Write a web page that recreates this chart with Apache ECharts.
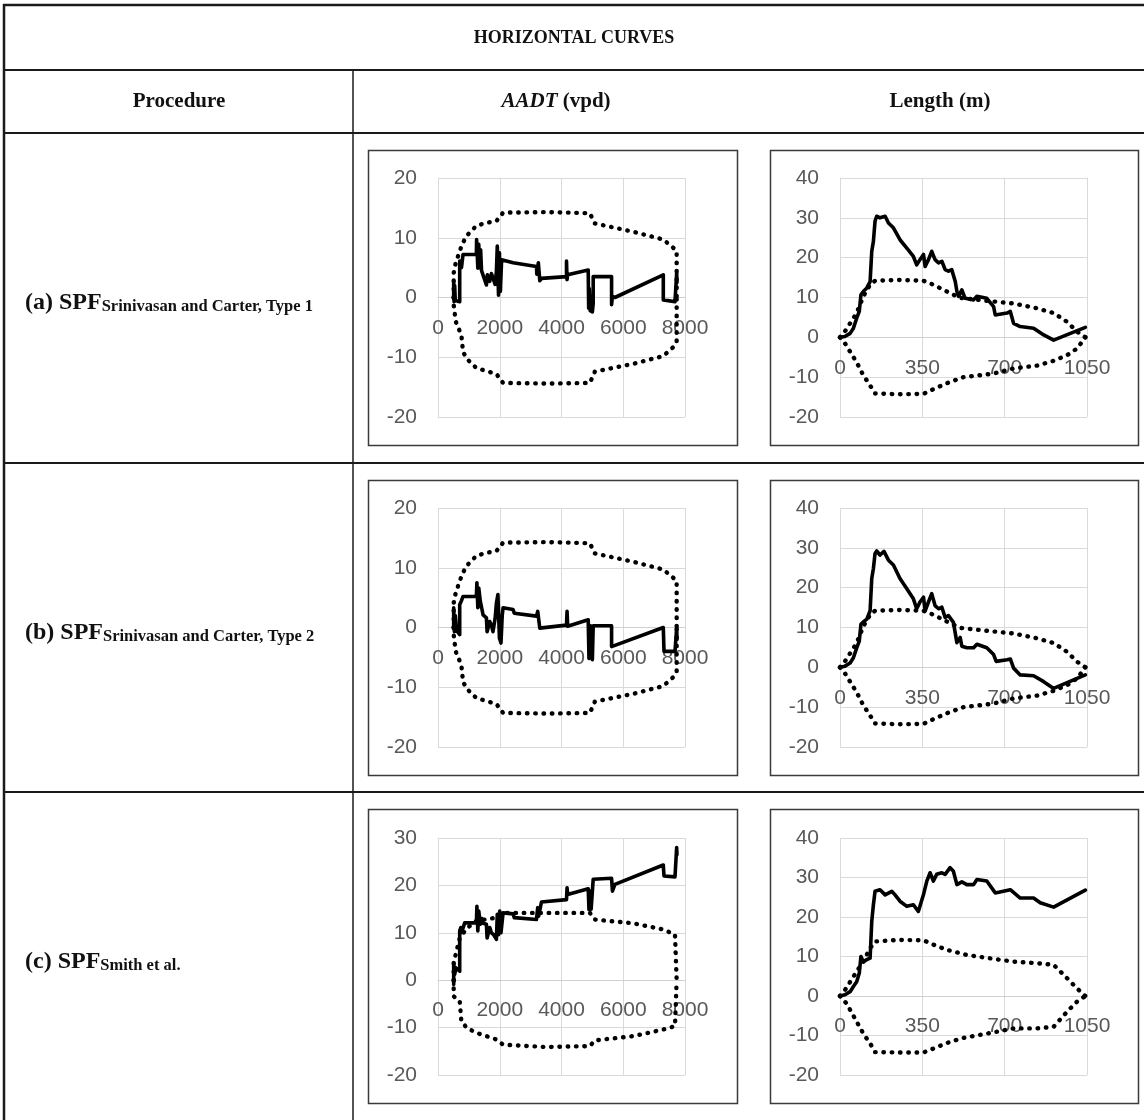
<!DOCTYPE html>
<html><head><meta charset="utf-8">
<style>html,body{margin:0;padding:0;background:#fff}#c{width:1144px;height:1120px}</style>
<script src="https://cdn.jsdelivr.net/npm/echarts/dist/echarts.min.js"></script>
</head><body><div id="c"></div>
<script>
// ---------- DATA ----------
const tableTitle = 'HORIZONTAL CURVES';
const columnHeaders = ['Procedure', 'AADT', 'Length (m)'];
const rowLabels = ['(a) SPF', '(b) SPF', '(c) SPF'];
const rowSubscripts = ['Srinivasan and Carter, Type 1', 'Srinivasan and Carter, Type 2', 'Smith et al.'];

const aadtAxis = [0, 8000, 2000];      // min, max, interval
const lengthAxis = [0, 1050, 350];
const yAxisAB = [-20, 20, 10];
const yAxisLenAll = [-20, 40, 10];
const yAxisAadtC = [-20, 30, 10];

// Row (a) AADT
const a1Solid = [[508,0],[508,2.7],[520,-0.7],[540,2.0],[560,-0.5],[703,-0.7],[703,6.1],[760,5.0],[811,7.2],[1243,7.2],[1250,9.7],[1290,4.9],[1320,8.9],[1350,5.0],[1380,8.0],[1410,4.5],[1460,4.4],[1568,2.1],[1600,3.8],[1676,2.7],[1730,4.0],[1800,3.0],[1850,2.2],[1892,4.4],[1920,8.6],[1960,0.4],[1990,7.5],[2020,1.0],[2060,6.3],[2108,6.3],[2432,5.8],[3189,5.2],[3200,3.9],[3250,5.8],[3297,2.8],[3351,3.2],[4162,3.5],[4162,6.1],[4180,3.0],[4200,3.8],[4865,4.6],[4880,-1.8],[4900,1.5],[4930,-2.2],[5000,-2.4],[5027,-1.0],[5027,3.5],[5622,3.5],[5622,-1.2],[5650,0.2],[5730,0],[7297,3.8],[7297,-0.4],[7676,-0.7],[7730,-1.0],[7730,4.1],[7740,2.5]];
const aadtUpperAB = [[508,0],[508,4.1],[560,5.5],[703,7.8],[811,9.2],[940,10.4],[1243,12.0],[1568,12.5],[1892,12.8],[2108,14.2],[3514,14.3],[4919,14.1],[5081,12.4],[6324,11.0],[7297,9.7],[7622,8.3],[7730,7.8],[7730,0]];
const aadtLowerAB = [[508,0],[508,-1.2],[573,-4.0],[757,-6.3],[811,-9.1],[940,-10.3],[1243,-11.8],[1892,-12.8],[2108,-14.3],[3514,-14.4],[4919,-14.3],[5081,-12.4],[6324,-11.1],[7297,-9.8],[7622,-8.3],[7730,-7.4],[7730,0]];

// Row (a) Length
const a2Solid = [[0,0],[21,0.2],[43,1.0],[57,2.3],[71,4.8],[82,6.5],[89,10.7],[99,11.5],[114,12.4],[128,14.0],[135,21.6],[142,24.1],[149,29.2],[156,30.4],[170,30.0],[192,30.4],[206,28.7],[227,27.5],[255,24.5],[284,22.4],[312,20.3],[326,18.2],[340,19.5],[355,20.8],[362,17.8],[376,19.5],[390,21.6],[404,19.5],[419,18.7],[433,19.1],[447,17.0],[461,16.6],[475,17.0],[490,14.0],[497,11.5],[504,10.3],[518,11.9],[532,9.8],[568,9.4],[582,10.3],[624,9.8],[653,7.7],[660,5.6],[710,6.1],[724,6.5],[738,3.5],[766,2.7],[823,2.3],[866,0.6],[908,-0.7],[1043,2.5]];
const lenUpperAB = [[0,0],[21,1.5],[71,6.1],[99,10.3],[128,13.2],[149,14.2],[250,14.4],[355,14.2],[397,13.2],[454,11.5],[511,9.9],[653,9.0],[738,8.5],[837,7.3],[908,6.1],[965,3.9],[1008,1.4],[1043,0]];
const lenLowerAB = [[0,0],[21,-1.5],[71,-6.3],[99,-9.5],[128,-12.1],[149,-14.1],[250,-14.3],[355,-14.2],[397,-13.0],[468,-11.2],[525,-10.0],[653,-9.1],[738,-7.8],[837,-7.1],[908,-5.9],[965,-4.5],[1008,-2.8],[1043,0]];

// Row (b)
const b1Solid = [[508,0],[508,3.3],[530,-0.7],[560,2.0],[600,-0.5],[703,-1.2],[703,3.8],[760,4.5],[811,5.2],[1243,5.2],[1260,7.5],[1290,3.3],[1320,6.6],[1370,4.4],[1460,2.1],[1568,1.6],[1590,-0.7],[1676,1.0],[1730,0.4],[1780,-0.7],[1850,1.5],[1892,4.1],[1940,5.5],[1990,-1.8],[2040,-2.6],[2080,2.0],[2108,3.3],[2432,3.0],[2470,2.4],[3189,1.9],[3230,2.7],[3297,-0.1],[4162,0.4],[4180,2.7],[4200,0.2],[4865,1.3],[4890,-5.2],[4940,0.3],[5000,-5.4],[5027,0.3],[5622,0.3],[5622,-3.2],[7297,0],[7320,-4.0],[7676,-4.0],[7730,-0.1],[7740,-2.0]];
const b2Solid = [[0,0],[21,0.3],[43,1.1],[57,2.4],[71,4.9],[82,6.6],[89,10.8],[99,11.4],[114,12.1],[128,14.2],[135,22.3],[142,24.8],[149,28.6],[156,29.2],[170,28.2],[187,29.1],[206,26.9],[227,25.7],[255,22.3],[284,19.7],[312,17.2],[326,14.7],[340,16.4],[355,17.6],[362,14.2],[376,16.4],[390,18.5],[404,15.5],[419,14.7],[433,15.1],[447,12.5],[461,13.0],[482,11.3],[490,10.8],[497,6.2],[511,7.5],[518,5.3],[539,4.9],[568,4.9],[582,5.8],[624,4.9],[653,3.2],[664,1.5],[710,1.9],[724,2.1],[738,-0.2],[766,-1.9],[823,-2.1],[866,-3.6],[908,-5.3],[1043,-1.9]];

// Row (c)
const c1Solid = [[508,-0.9],[508,3.7],[540,1.2],[580,2.6],[703,1.9],[703,10.4],[740,11.1],[760,10.0],[865,12.1],[1243,12.1],[1260,15.6],[1290,10.4],[1320,14.6],[1370,11.8],[1420,13.0],[1460,12.0],[1568,11.8],[1590,8.9],[1676,11.1],[1730,10.0],[1800,9.6],[1892,8.6],[1920,13.9],[1960,9.6],[2000,14.6],[2040,10.0],[2108,14.2],[2432,14.0],[2470,13.2],[3189,12.8],[3230,15.3],[3260,13.5],[3351,16.5],[4162,17.0],[4180,19.5],[4200,18.1],[4865,19.3],[4890,14.9],[4930,18.8],[4960,15.0],[5027,21.3],[5622,21.5],[5650,18.8],[5730,20.2],[7297,24.3],[7320,22.0],[7676,21.8],[7730,21.8],[7730,28.0],[7740,26.5]];
const aadtUpperC = [[508,0],[508,3.7],[703,8.9],[940,11.0],[1243,12.5],[1892,13.2],[2108,14.2],[3514,14.2],[4919,14.2],[5081,12.8],[6324,12.0],[7297,10.7],[7676,9.6],[7730,9.4],[7730,0]];
const aadtLowerC = [[508,0],[508,-3.4],[703,-4.4],[757,-8.7],[940,-10.1],[1243,-11.1],[1892,-12.5],[2108,-13.6],[3514,-14.1],[4919,-13.9],[5081,-12.7],[6324,-11.8],[7297,-10.4],[7676,-9.7],[7730,-9.4],[7730,0]];
const c2Solid = [[0,0],[21,0.3],[43,1.1],[57,2.4],[71,3.6],[82,5.8],[89,10.0],[99,8.7],[114,9.2],[128,9.6],[135,18.9],[142,23.1],[149,26.5],[170,26.9],[192,25.6],[220,26.5],[234,25.6],[255,24.0],[284,22.7],[312,23.1],[333,21.4],[355,25.7],[369,29.1],[383,31.2],[397,29.1],[411,30.8],[433,31.2],[447,30.8],[468,32.5],[482,31.6],[497,28.2],[518,28.9],[539,28.2],[568,28.2],[582,29.5],[624,29.1],[660,26.1],[724,26.9],[766,24.8],[823,24.8],[851,23.6],[908,22.5],[1043,26.8]];
const lenUpperC = [[0,0],[21,1.5],[71,6.2],[99,8.7],[128,12.1],[149,13.8],[250,14.2],[355,14.1],[397,13.0],[454,11.7],[539,10.4],[653,9.4],[738,8.7],[837,8.3],[908,7.9],[965,4.5],[1008,1.9],[1043,0]];
const lenLowerC = [[0,0],[28,-1.9],[71,-6.5],[99,-9.5],[128,-12.0],[149,-14.2],[250,-14.3],[355,-14.3],[397,-13.3],[468,-11.6],[525,-10.6],[653,-9.2],[738,-8.2],[837,-8.2],[908,-7.8],[965,-4.0],[1008,-1.4],[1043,0]];

// ---------- LAYOUT ----------
const panels = [
  {left:438, top:178, h:239, x:aadtAxis, y:yAxisAB, solid:a1Solid, up:aadtUpperAB, lo:aadtLowerAB},
  {left:840, top:178, h:239, x:lengthAxis, y:yAxisLenAll, solid:a2Solid, up:lenUpperAB, lo:lenLowerAB},
  {left:438, top:508, h:239, x:aadtAxis, y:yAxisAB, solid:b1Solid, up:aadtUpperAB, lo:aadtLowerAB},
  {left:840, top:508, h:239, x:lengthAxis, y:yAxisLenAll, solid:b2Solid, up:lenUpperAB, lo:lenLowerAB},
  {left:438, top:838, h:237, x:aadtAxis, y:yAxisAadtC, solid:c1Solid, up:aadtUpperC, lo:aadtLowerC},
  {left:840, top:838, h:237, x:lengthAxis, y:yAxisLenAll, solid:c2Solid, up:lenUpperC, lo:lenLowerC}
];
const grids = [], xAxes = [], yAxes = [], series = [];
const labelStyle = {color:'#595959', fontSize:21, fontFamily:'Liberation Sans', formatter: v => String(v)};
panels.forEach((p, i) => {
  grids.push({left:p.left, top:p.top, width:247, height:p.h, containLabel:false});
  const zeroOffset = -p.h * (0 - p.y[0]) / (p.y[1] - p.y[0]);
  xAxes.push({type:'value', gridIndex:i, min:p.x[0], max:p.x[1], interval:p.x[2], position:'bottom', offset:zeroOffset,
    axisLine:{show:true, onZero:false, lineStyle:{color:'#d0d0d0', width:1}},
    axisTick:{show:false}, axisLabel:Object.assign({margin:20}, labelStyle),
    splitLine:{show:true, lineStyle:{color:'#d9d9d9', width:1}}});
  yAxes.push({type:'value', gridIndex:i, min:p.y[0], max:p.y[1], interval:p.y[2],
    axisLine:{show:false}, axisTick:{show:false}, axisLabel:Object.assign({margin:21}, labelStyle),
    splitLine:{show:true, lineStyle:{color:'#d9d9d9', width:1}}});
  const dotted = {color:'#000', width:4.4, type:[0.5, 7.8], cap:'round'};
  [p.up, p.lo].forEach(d => series.push({type:'line', xAxisIndex:i, yAxisIndex:i, data:d, showSymbol:false, symbol:'none',
    lineStyle:dotted, z:3, silent:true}));
  series.push({type:'line', xAxisIndex:i, yAxisIndex:i, data:p.solid, showSymbol:false, symbol:'none',
    lineStyle:{color:'#000', width:3.6, join:'round', cap:'round'}, z:4, silent:true});
});

const ink = '#1a1a1a';
const g = [];
function hline(y, x1, x2, w){ g.push({type:'line', shape:{x1:x1, y1:y, x2:x2, y2:y}, style:{stroke:ink, lineWidth:w}}); }
function vline(x, y1, y2, w){ g.push({type:'line', shape:{x1:x, y1:y1, x2:x, y2:y2}, style:{stroke:ink, lineWidth:w}}); }
hline(5, 3, 1144, 2.5);
vline(4, 4, 1120, 2.5);
hline(70, 4, 1144, 2);
hline(133, 4, 1144, 2);
vline(353, 70, 1120, 1.5);
hline(463, 4, 1144, 2);
hline(792, 4, 1144, 2);
// chart boxes
[[368,150],[770,150],[368,480],[770,480],[368,809],[770,809]].forEach((b, i) => {
  g.push({type:'rect', shape:{x:b[0]+0.5, y:b[1]+0.5, width:(i%2===0?369:368), height:(i<4?295:294)},
    style:{fill:'none', stroke:'#3a3a3a', lineWidth:1.5}});
});
const serif = 'Liberation Serif';
g.push({type:'text', style:{x:574, y:38, text:tableTitle, align:'center', verticalAlign:'middle',
  font:'bold 18px "Liberation Serif"', fill:'#111'}});
g.push({type:'text', style:{x:179, y:102, text:columnHeaders[0], align:'center', verticalAlign:'middle',
  font:'bold 21px "Liberation Serif"', fill:'#111'}});
g.push({type:'text', style:{x:556, y:102, text:'{i|' + columnHeaders[1] + '}{n| (vpd)}', align:'center', verticalAlign:'middle',
  rich:{i:{fontFamily:serif, fontSize:21, fontWeight:'bold', fontStyle:'italic', fill:'#111'},
        n:{fontFamily:serif, fontSize:21, fontWeight:'bold', fill:'#111'}}}});
g.push({type:'text', style:{x:940, y:102, text:columnHeaders[2], align:'center', verticalAlign:'middle',
  font:'bold 21px "Liberation Serif"', fill:'#111'}});
[303, 633, 962].forEach((y, i) => {
  g.push({type:'text', style:{x:25, y:y, align:'left', verticalAlign:'middle',
    text:'{m|' + rowLabels[i] + '}{s|' + rowSubscripts[i] + '}',
    rich:{m:{fontFamily:serif, fontSize:24, fontWeight:'bold', fill:'#111', lineHeight:24, verticalAlign:'bottom'},
          s:{fontFamily:serif, fontSize:16.5, fontWeight:'bold', fill:'#111', lineHeight:14, verticalAlign:'bottom'}}}});
});

const chart = echarts.init(document.getElementById('c'), null, {renderer:'canvas'});
chart.setOption({animation:false, backgroundColor:'#fff', grid:grids, xAxis:xAxes, yAxis:yAxes, series:series, graphic:g});
</script></body></html>
